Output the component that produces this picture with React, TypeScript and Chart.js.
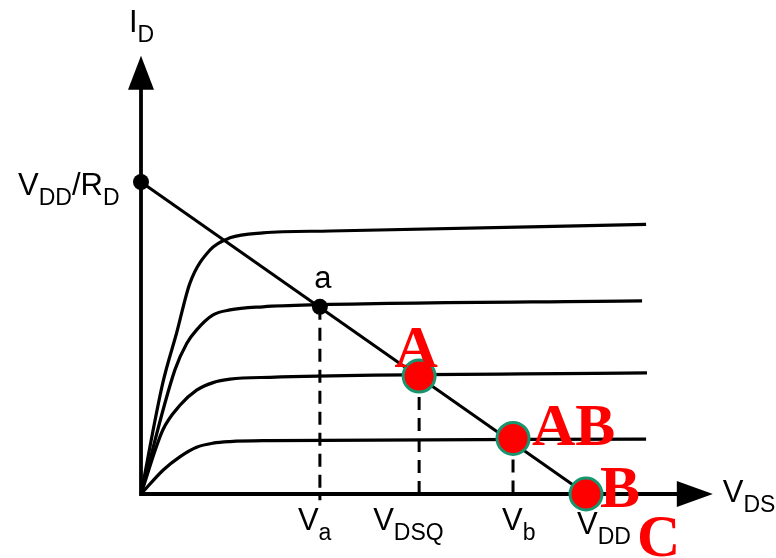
import { useEffect, useRef } from "react";
import { Chart, registerables } from "chart.js";

Chart.register(...registerables);

// Drain characteristics: V_DS (V) against I_D (mA), one curve per gate voltage
const curveTop = [
  { x: 0, y: 0 }, { x: 0.49, y: 3.56 }, { x: 0.8, y: 5.16 }, { x: 1.1, y: 6.76 },
  { x: 1.55, y: 7.82 }, { x: 2.0, y: 8.21 }, { x: 2.74, y: 8.37 }, { x: 4.25, y: 8.43 },
  { x: 11.35, y: 8.64 },
];
const curveSecond = [
  { x: 0, y: 0 }, { x: 0.76, y: 3.97 }, { x: 1.03, y: 4.83 }, { x: 1.25, y: 5.26 },
  { x: 1.62, y: 5.74 }, { x: 2.0, y: 5.9 }, { x: 2.74, y: 6.0 }, { x: 3.8, y: 6.06 },
  { x: 11.26, y: 6.19 },
];
const curveThird = [
  { x: 0, y: 0 }, { x: 0.49, y: 2.05 }, { x: 0.88, y: 2.85 }, { x: 1.25, y: 3.33 },
  { x: 1.62, y: 3.57 }, { x: 2.0, y: 3.68 }, { x: 2.9, y: 3.74 }, { x: 11.37, y: 3.88 },
];
const curveBottom = [
  { x: 0, y: 0 }, { x: 0.5, y: 0.77 }, { x: 0.88, y: 1.2 }, { x: 1.25, y: 1.5 },
  { x: 1.62, y: 1.63 }, { x: 2.0, y: 1.68 }, { x: 2.9, y: 1.71 }, { x: 11.35, y: 1.76 },
];

// Load line between the axis intercepts V_DD/R_D and V_DD
const VDD = 10;
const VDD_OVER_RD = 10;
const loadLine = [
  { x: 0, y: VDD_OVER_RD },
  { x: VDD, y: 0 },
];

// Operating points
const pointA = { x: 6.25, y: 3.78 };
const pointAB = { x: 8.36, y: 1.78 };
const pointB = { x: VDD, y: 0 };
const pointSmallA = { x: 4.02, y: 6.0 };

// Axis extents (arrow tips)
const X_AXIS_END = 12.85;
const Y_AXIS_END = 14.05;

// Labels under the V_DS axis
const bottomMain = ["V", "V", "V", "V"];
const bottomSub = ["a", "DSQ", "b", "DD"];
const bottomAt = [pointSmallA.x, pointA.x, pointAB.x, VDD];

const redLabels = ["A", "AB", "B", "C"];

const SANS = '"Liberation Sans", Arial, Helvetica, sans-serif';
const SERIF = '"Liberation Serif", "Times New Roman", Times, serif';
const MAIN_FONT = `31px ${SANS}`;
const SUB_FONT = `23px ${SANS}`;

function drawSubscripted(
  ctx: CanvasRenderingContext2D,
  main: string,
  sub: string,
  x: number,
  y: number,
) {
  ctx.font = MAIN_FONT;
  ctx.fillText(main, x, y);
  const w = ctx.measureText(main).width;
  ctx.font = SUB_FONT;
  ctx.fillText(sub, x + w, y + 10);
}

const diagramPlugin = {
  id: "diagram",
  beforeDatasetsDraw(chart: any) {
    const { ctx, scales } = chart;
    const xs = scales.x;
    const ys = scales.y;
    const ox = xs.getPixelForValue(0);
    const oy = ys.getPixelForValue(0);
    const xe = xs.getPixelForValue(X_AXIS_END);
    const ye = ys.getPixelForValue(Y_AXIS_END);
    ctx.save();
    ctx.strokeStyle = "#000";
    ctx.lineWidth = 3.8;
    ctx.lineCap = "butt";
    ctx.beginPath();
    ctx.moveTo(ox, ye + 30);
    ctx.lineTo(ox, oy);
    ctx.lineTo(xe - 30, oy);
    ctx.stroke();
    ctx.fillStyle = "#000";
    ctx.beginPath();
    ctx.moveTo(ox, ye);
    ctx.lineTo(ox - 13, ye + 34);
    ctx.lineTo(ox + 13, ye + 34);
    ctx.closePath();
    ctx.fill();
    ctx.beginPath();
    ctx.moveTo(xe, oy);
    ctx.lineTo(xe - 36, oy - 13);
    ctx.lineTo(xe - 36, oy + 13);
    ctx.closePath();
    ctx.fill();
    ctx.restore();
  },
  afterDatasetsDraw(chart: any) {
    const { ctx, scales } = chart;
    const xs = scales.x;
    const ys = scales.y;
    const px = (v: number) => xs.getPixelForValue(v);
    const py = (v: number) => ys.getPixelForValue(v);
    ctx.save();
    ctx.fillStyle = "#000";
    ctx.textBaseline = "alphabetic";
    ctx.textAlign = "left";

    // axis titles
    drawSubscripted(ctx, "I", "D", px(0) - 12, py(Y_AXIS_END) - 24);
    drawSubscripted(ctx, "V", "DS", px(X_AXIS_END) + 10, py(0) + 8);

    // V_DD / R_D on the current axis
    {
      let cx = 18;
      const base = py(VDD_OVER_RD) + 13;
      const parts: [string, boolean][] = [["V", false], ["DD", true], ["/R", false], ["D", true]];
      for (const [t, s] of parts) {
        ctx.font = s ? SUB_FONT : MAIN_FONT;
        ctx.fillText(t, cx, base + (s ? 10 : 0));
        cx += ctx.measureText(t).width;
      }
    }

    // point label "a"
    ctx.font = MAIN_FONT;
    ctx.textAlign = "center";
    ctx.fillText("a", px(pointSmallA.x) + 3, py(pointSmallA.y) - 19);
    ctx.textAlign = "left";

    // voltage labels below the axis
    const dx = [-22, -46, -11, -9];
    const dy = [36, 36, 36, 40];
    bottomMain.forEach((m, i) => {
      drawSubscripted(ctx, m, bottomSub[i], px(bottomAt[i]) + dx[i], py(0) + dy[i]);
    });

    // red operating-point letters
    ctx.fillStyle = "#ff0000";
    ctx.font = `bold 60px ${SERIF}`;
    ctx.textAlign = "center";
    ctx.fillText(redLabels[0], px(pointA.x) - 3, py(pointA.y) - 9);
    ctx.textAlign = "left";
    ctx.fillText(redLabels[1], px(pointAB.x) + 19, py(pointAB.y) + 7);
    ctx.fillText(redLabels[2], px(pointB.x) + 14, py(pointB.y) + 13);
    ctx.fillText(redLabels[3], px(pointB.x) + 51, py(pointB.y) + 62);
    ctx.restore();
  },
};

const X_MIN = -141 / 44.5;
const X_MAX = (776 - 141) / 44.5;
const Y_MIN = -(558 - 494) / 31.2;
const Y_MAX = 494 / 31.2;

export default function App() {
  const canvasRef = useRef<HTMLCanvasElement | null>(null);

  useEffect(() => {
    if (!canvasRef.current) return;
    const curveStyle = {
      showLine: true,
      borderColor: "#000",
      borderWidth: 3.2,
      pointRadius: 0,
      cubicInterpolationMode: "monotone" as const,
      fill: false,
    };
    const dashStyle = {
      showLine: true,
      borderColor: "#000",
      borderWidth: 3,
      borderDash: [13, 8],
      pointRadius: 0,
      fill: false,
    };
    const chart = new Chart(canvasRef.current, {
      type: "scatter",
      data: {
        datasets: [
          {
            label: "Q points",
            data: [pointA, pointAB, pointB],
            pointRadius: 16,
            pointBackgroundColor: "#ff0000",
            pointBorderColor: "#17956f",
            pointBorderWidth: 3,
          },
          {
            label: "markers",
            data: [loadLine[0], pointSmallA],
            pointRadius: 8,
            pointBackgroundColor: "#000",
            pointBorderColor: "#000",
            pointBorderWidth: 0,
          },
          {
            ...dashStyle,
            label: "Va",
            data: [pointSmallA, { x: pointSmallA.x, y: -0.2 }],
          },
          {
            ...dashStyle,
            label: "VDSQ",
            data: [pointA, { x: pointA.x, y: -0.2 }],
          },
          {
            ...dashStyle,
            label: "Vb",
            data: [pointAB, { x: pointAB.x, y: -0.2 }],
          },
          {
            label: "load line",
            data: loadLine,
            showLine: true,
            borderColor: "#000",
            borderWidth: 3,
            pointRadius: 0,
          },
          { ...curveStyle, label: "VGS4", data: curveTop },
          { ...curveStyle, label: "VGS3", data: curveSecond },
          { ...curveStyle, label: "VGS2", data: curveThird },
          { ...curveStyle, label: "VGS1", data: curveBottom },
        ],
      },
      options: {
        animation: false,
        responsive: false,
        maintainAspectRatio: false,
        layout: { padding: 0, autoPadding: false },
        plugins: {
          legend: { display: false },
          tooltip: { enabled: false },
        },
        events: [],
        scales: {
          x: { type: "linear", min: X_MIN, max: X_MAX, display: false },
          y: { type: "linear", min: Y_MIN, max: Y_MAX, display: false },
        },
      },
      plugins: [diagramPlugin],
    });
    return () => chart.destroy();
  }, []);

  return (
    <div style={{ position: "fixed", left: 0, top: 0, width: 776, height: 558, background: "#fff" }}>
      <canvas ref={canvasRef} width={776} height={558} style={{ display: "block" }} />
    </div>
  );
}
